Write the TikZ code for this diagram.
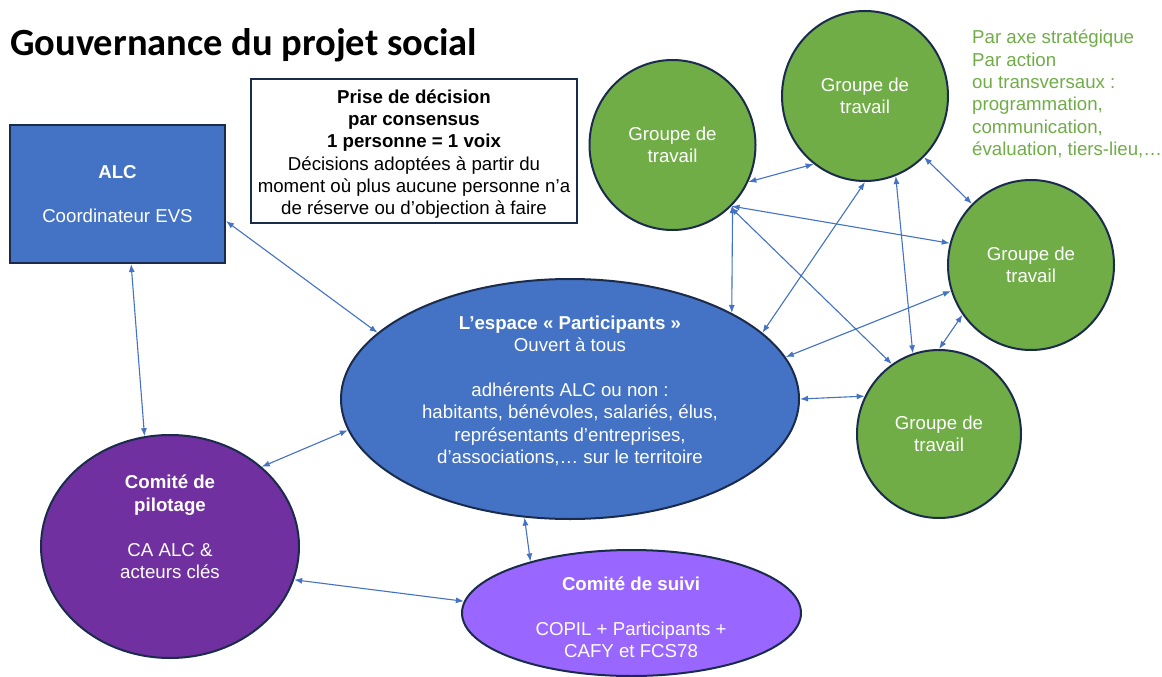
\documentclass[tikz,border=0pt]{standalone}
\usepackage{fontspec}
\setmainfont{Liberation Sans}
\newfontfamily\titlefont{Carlito}
\usetikzlibrary{shapes.geometric,arrows.meta}
\definecolor{blueF}{HTML}{4472C4}
\definecolor{edgeD}{HTML}{1A2B4C}
\definecolor{greenF}{HTML}{70AD47}
\definecolor{purpF}{HTML}{7030A0}
\definecolor{lilacF}{HTML}{9966FF}
\definecolor{arrowC}{HTML}{4472C4}
\definecolor{greenT}{HTML}{70AD47}
\tikzset{
  txt/.style={font=\fontsize{18.67}{22.4}\selectfont, align=center, inner sep=0pt},
  shapeE/.style={ellipse, draw=edgeD, line width=2pt, inner sep=0pt},
  groupe/.style={shapeE, fill=greenF, minimum width=166pt, minimum height=170pt, txt, text=white},
  lnk/.style={<->, draw=arrowC, line width=1.1pt, >={Latex[length=8pt,width=6pt]}},
}
\begin{document}
\begin{tikzpicture}[x=1pt,y=-1pt]
\useasboundingbox (0,0) rectangle (1162,677);
\fill[white] (0,0) rectangle (1162,677);

% title
\node[anchor=base west, inner sep=0pt, font=\titlefont\bfseries\fontsize{38.5}{44}\selectfont] (title) at (10,56) {Gouvernance du projet social};

% ALC box
\node[draw=edgeD, line width=2pt, fill=blueF, minimum width=215pt, minimum height=138pt, txt, text=white] (ALC) at (117.5,194) {\textbf{ALC}\\[22.4pt]Coordinateur EVS};

% consensus box
\node[draw=edgeD, line width=2.2pt, fill=white, minimum width=326pt, minimum height=144pt] (CONS) at (414,151) {};
\node[txt, font=\fontsize{18.67}{22.2}\selectfont] (CONSt) at (414,154) {\textbf{Prise de décision}\\\textbf{par consensus}\\\textbf{1 personne = 1 voix}\\Décisions adoptées à partir du\\moment où plus aucune personne n’a\\de réserve ou d’objection à faire};

% green note
\node[anchor=west, inner sep=0pt, font=\fontsize{18.67}{22.3}\selectfont, align=left, text=greenT] (note) at (972,94) {Par axe stratégique\\Par action\\ou transversaux :\\programmation,\\communication,\\évaluation, tiers-lieu,…};

% groups
\node[groupe] (G1) at (672.5,145) {Groupe de\\travail};
\node[groupe] (G2) at (865,96) {Groupe de\\travail};
\node[groupe] (G3) at (1031,265) {Groupe de\\travail};
\node[groupe, minimum width=164pt, minimum height=168pt] (G4) at (939,434) {Groupe de\\travail};

% participants
\node[shapeE, fill=blueF, minimum width=458pt, minimum height=240pt] (P) at (570,399) {};
\node[txt, text=white] (Pt) at (570,391) {\textbf{L’espace « Participants »}\\Ouvert à tous\\[22.4pt]adhérents ALC ou non :\\habitants, bénévoles, salariés, élus,\\représentants d’entreprises,\\d’associations,… sur le territoire};

% comite de pilotage
\node[shapeE, fill=purpF, minimum width=258pt, minimum height=223pt] (CP) at (170,546.5) {};
\node[txt, text=white] (CPt) at (170,527) {\textbf{Comité de}\\\textbf{pilotage}\\[22.4pt]CA ALC \&\\acteurs clés};

% comite de suivi
\node[shapeE, fill=lilacF, minimum width=339pt, minimum height=126pt] (CS) at (631.5,613) {};
\node[txt, text=white] (CSt) at (631,617.5) {\textbf{Comité de suivi}\\[22.4pt]COPIL + Participants +\\CAFY et FCS78};

% connectors
\draw[lnk] (G1.-26) -- (G2.-127);
\draw[lnk] (G2.-46) -- (G3.134);
\draw[lnk] (G1.-45) -- (P.28);
\draw[lnk] (G2.-90) -- (P.19);
\draw[lnk] (G1.-46) -- (G3.165);
\draw[lnk] (G1.-47) -- (G4.124);
\draw[lnk] (G2.-69) -- (G4.108);
\draw[lnk] (P.11) -- (G3.-162);
\draw[lnk] (G3.-144) -- (G4.90);
\draw[lnk] (P.0) -- (G4.153);
\draw[lnk] (ALC.-14) -- (P.161);
\draw[lnk] (ALC.-79) -- (CP.103);
\draw[lnk] (CP.41) -- (P.-172);
\draw[lnk] (CP.-15) -- (CS.176);
\draw[lnk] (P.-111) -- (CS.153);
\end{tikzpicture}
\end{document}
